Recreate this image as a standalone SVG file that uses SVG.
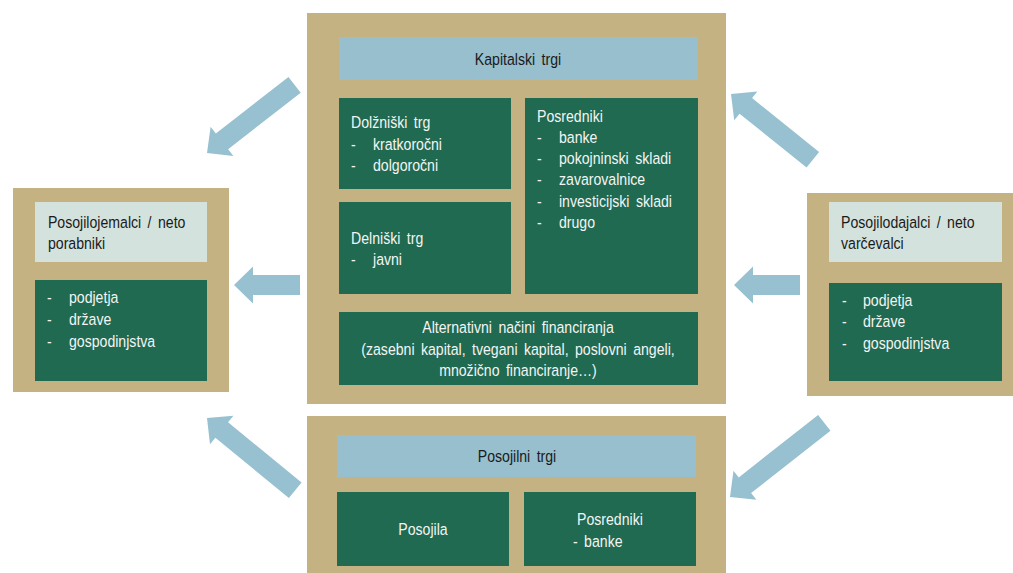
<svg xmlns="http://www.w3.org/2000/svg" width="1013" height="573" viewBox="0 0 1013 573">
<style>
.tan{fill:#c4b283}
.blue{fill:#97bfce}
.green{fill:#1f6a50}
.pale{fill:#d4e2dd}
.arr{fill:#97c1d0}
text{font-family:"Liberation Sans",Arial,sans-serif;font-size:17px;word-spacing:3px}
.w{fill:#f4f4f4}
.d{fill:#1a1a1a}
.c{text-anchor:middle}
</style>
<rect width="1013" height="573" fill="#ffffff"/>
<g id="borrowers">
<rect class="tan" x="13" y="188" width="216" height="204"/>
<rect class="pale" x="35" y="202" width="172" height="60"/>
<rect class="green" x="35" y="280" width="172" height="101"/>
<g transform="scale(0.83 1)">
<text class="d" x="57.8" y="228">Posojilojemalci / neto</text>
<text class="d" x="57.8" y="249">porabniki</text>
<text class="w" x="56.6" y="303">-</text><text class="w" x="83.1" y="303">podjetja</text>
<text class="w" x="56.6" y="325">-</text><text class="w" x="83.1" y="325">države</text>
<text class="w" x="56.6" y="347">-</text><text class="w" x="83.1" y="347">gospodinjstva</text>
</g>
</g>
<g id="lenders">
<rect class="tan" x="807" y="193" width="206" height="203"/>
<rect class="pale" x="829" y="202" width="173" height="60"/>
<rect class="green" x="829" y="283" width="173" height="98"/>
<g transform="scale(0.83 1)">
<text class="d" x="1013.3" y="228">Posojilodajalci / neto</text>
<text class="d" x="1013.3" y="249">varčevalci</text>
<text class="w" x="1014.5" y="306">-</text><text class="w" x="1039.8" y="306">podjetja</text>
<text class="w" x="1014.5" y="327">-</text><text class="w" x="1039.8" y="327">države</text>
<text class="w" x="1014.5" y="349">-</text><text class="w" x="1039.8" y="349">gospodinjstva</text>
</g>
</g>
<g id="capital-markets">
<rect class="tan" x="307" y="13" width="419" height="391"/>
<rect class="blue" x="339" y="37" width="359" height="43"/>
<text class="d c" x="624.1" y="65" transform="scale(0.83 1)">Kapitalski trgi</text>
<g id="debt-market">
<rect class="green" x="339" y="98" width="172" height="91"/>
<g transform="scale(0.83 1)">
<text class="w" x="422.9" y="128">Dolžniški trg</text>
<text class="w" x="422.9" y="150">-</text><text class="w" x="449.4" y="150">kratkoročni</text>
<text class="w" x="422.9" y="171">-</text><text class="w" x="449.4" y="171">dolgoročni</text>
</g>
</g>
<g id="equity-market">
<rect class="green" x="339" y="202" width="172" height="92"/>
<g transform="scale(0.83 1)">
<text class="w" x="422.9" y="244">Delniški trg</text>
<text class="w" x="422.9" y="265">-</text><text class="w" x="449.4" y="265">javni</text>
</g>
</g>
<g id="intermediaries">
<rect class="green" x="525" y="98" width="173" height="196"/>
<g transform="scale(0.83 1)">
<text class="w" x="647" y="122">Posredniki</text>
<text class="w" x="647" y="143">-</text><text class="w" x="673.5" y="143">banke</text>
<text class="w" x="647" y="164">-</text><text class="w" x="673.5" y="164">pokojninski skladi</text>
<text class="w" x="647" y="185">-</text><text class="w" x="673.5" y="185">zavarovalnice</text>
<text class="w" x="647" y="207">-</text><text class="w" x="673.5" y="207">investicijski skladi</text>
<text class="w" x="647" y="228">-</text><text class="w" x="673.5" y="228">drugo</text>
</g>
</g>
<g id="alternative">
<rect class="green" x="339" y="312" width="359" height="73"/>
<g transform="scale(0.83 1)">
<text class="w c" x="624.1" y="333">Alternativni načini financiranja</text>
<text class="w c" x="624.1" y="355">(zasebni kapital, tvegani kapital, poslovni angeli,</text>
<text class="w c" x="624.1" y="376">množično financiranje…)</text>
</g>
</g>
</g>
<g id="loan-markets">
<rect class="tan" x="307" y="416" width="419" height="157"/>
<rect class="blue" x="337" y="435" width="359" height="42"/>
<text class="d c" x="622.9" y="462" transform="scale(0.83 1)">Posojilni trgi</text>
<g id="loans">
<rect class="green" x="337" y="492" width="172" height="74"/>
<text class="w c" x="509.6" y="535" transform="scale(0.83 1)">Posojila</text>
</g>
<g id="loan-intermediaries">
<rect class="green" x="524" y="492" width="172" height="74"/>
<g transform="scale(0.83 1)">
<text class="w" x="695.2" y="525">Posredniki</text>
<text class="w" x="690.4" y="547">- banke</text>
</g>
</g>
</g>
<g id="connectors">
<polygon class="arr" points="0,0 19,-18.5 19,-10 111,-10 111,10 19,10 19,18.5" transform="translate(207,153) rotate(-37.9)"/>
<polygon class="arr" points="0,0 19,-18.5 19,-10 105,-10 105,10 19,10 19,18.5" transform="translate(731,94) rotate(38.8)"/>
<polygon class="arr" points="0,0 19,-18.5 19,-10 114,-10 114,10 19,10 19,18.5" transform="translate(207,418) rotate(39.3)"/>
<polygon class="arr" points="0,0 19,-18.5 19,-10 120,-10 120,10 19,10 19,18.5" transform="translate(730,497) rotate(-38.2)"/>
<polygon class="arr" points="0,0 19,-18.5 19,-10 66,-10 66,10 19,10 19,18.5" transform="translate(234,285)"/>
<polygon class="arr" points="0,0 19,-18.5 19,-10 66,-10 66,10 19,10 19,18.5" transform="translate(734,285)"/>
</g>
</svg>
